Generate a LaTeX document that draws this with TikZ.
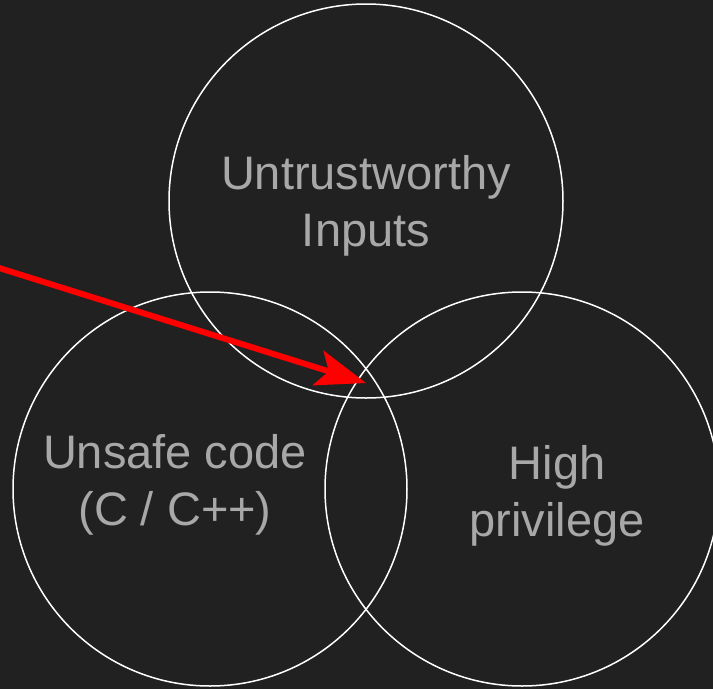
\documentclass[tikz,border=0pt]{standalone}
\usepackage{fontspec}
\setmainfont{Liberation Sans}
\usetikzlibrary{arrows.meta}
\definecolor{bg}{HTML}{212121}
\definecolor{labelgray}{HTML}{A8A8A8}
\definecolor{arrowred}{HTML}{FF0000}
\tikzset{
  setcircle/.style={circle, draw=white, line width=1.5pt, minimum size=394pt, inner sep=0pt},
  setlabel/.style={text=labelgray, align=center, inner sep=0pt,
    font=\fontsize{47}{57}\selectfont},
  pointer/.style={draw=arrowred, line width=6pt,
    -{Stealth[length=50pt, width=36pt, inset=11pt]}},
}
\begin{document}
\begin{tikzpicture}[x=1pt, y=-1pt]
  % canvas
  \fill[bg] (0,0) rectangle (713,689);
  \useasboundingbox (0,0) rectangle (713,689);

  % the three overlapping sets
  \node[setcircle] (inputs) at (366,201) {};
  \node[setcircle] (unsafe) at (210,489) {};
  \node[setcircle] (priv)   at (522,489) {};

  % set labels
  \node[setlabel] (inputslbl) at (366,206) {Untrustworthy\\Inputs};
  \node[setlabel] (unsafelbl) at (175,485) {Unsafe code\\(C / C++)};
  \node[setlabel] (privlbl)   at (557,496) {High\\privilege};

  % pointer into the triple intersection
  \coordinate (from) at (-4,267);
  \coordinate (hit)  at (366,383);
  \draw[pointer] (from) -- (hit);
\end{tikzpicture}
\end{document}
